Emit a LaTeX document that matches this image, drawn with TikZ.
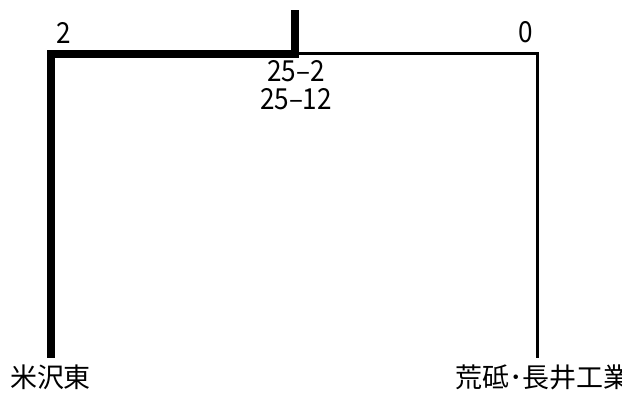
\documentclass[tikz,border=0pt]{standalone}
\usepackage{fontspec}
\setmainfont{Noto Sans CJK JP}
\newcommand{\tallnum}[1]{\scalebox{0.9}[1]{#1}}
\begin{document}
\begin{tikzpicture}[x=1pt,y=-1pt,
  lbl/.style={inner sep=0pt, font=\fontsize{27}{27}\selectfont},
  num/.style={inner sep=0pt, font=\fontsize{29}{28}\selectfont},
  heavy/.style={line width=8pt, line join=miter},
  light/.style={line width=3pt, line join=miter}]
\useasboundingbox (0,0) rectangle (622,397);
\coordinate (topend) at (295,10);
\coordinate (junc) at (295,54);
\coordinate (lcorner) at (51,54);
\coordinate (lend) at (51,358);
\coordinate (jthin) at (295,53);
\coordinate (rcorner) at (537.5,53);
\coordinate (rend) at (537.5,358);
\draw[light] (jthin) -- (rcorner) -- (rend);
\draw[heavy] (topend) -- (junc) -- (lcorner) -- (lend);
\node[num] (n2) at (64,32.5) {\tallnum{2}};
\node[num] (n0) at (525.5,32.5) {\tallnum{0}};
\node[num, align=center] (km) at (296,85.5) {\tallnum{25–2}\\\tallnum{25–12}};
\node[lbl] (west) at (50.5,377) {米沢東};
\node[lbl, anchor=west] (east) at (455,377) {荒砥･長井工業};
\end{tikzpicture}
\end{document}
